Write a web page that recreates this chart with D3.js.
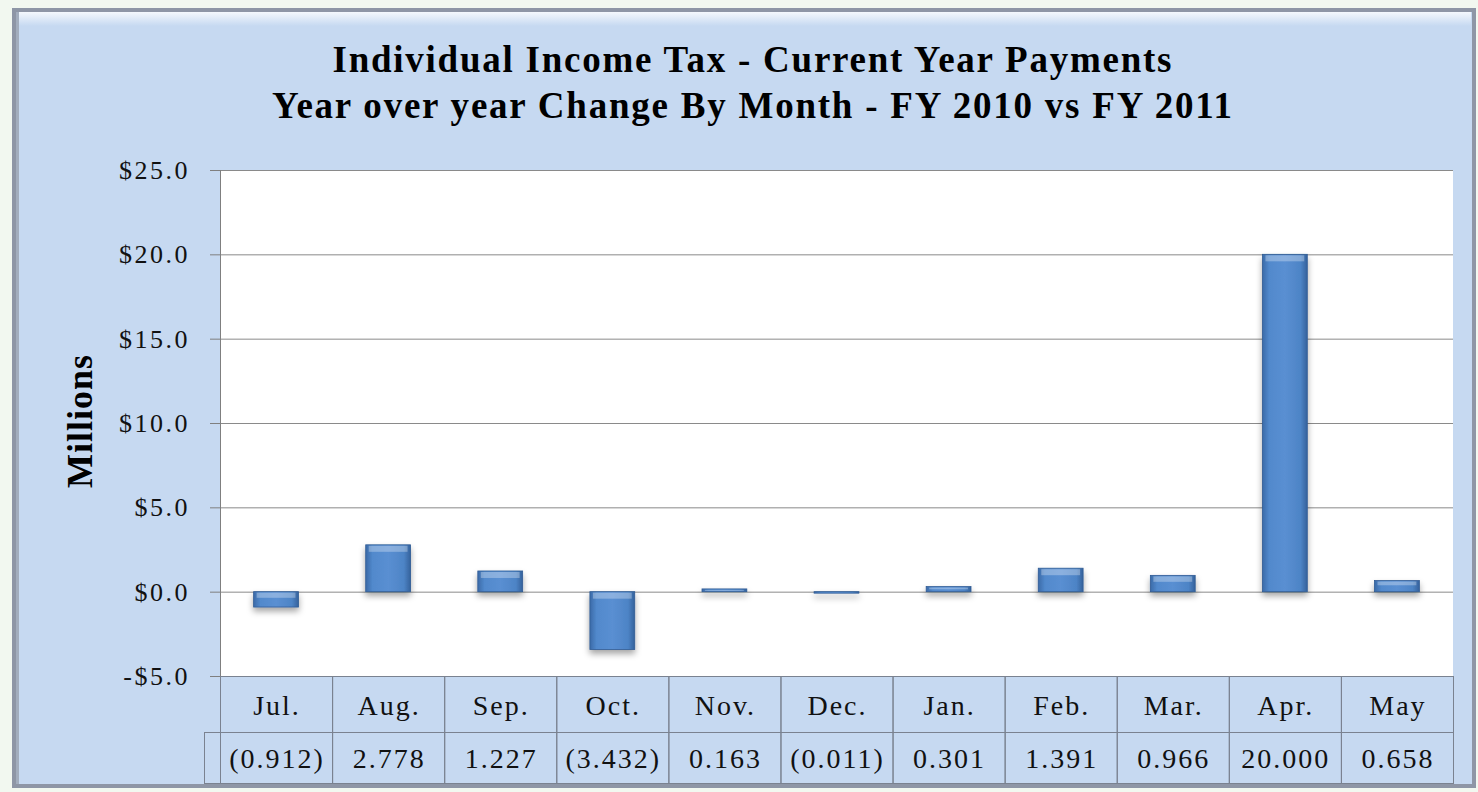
<!DOCTYPE html>
<meta charset="utf-8">
<script src="https://d3js.org/d3.v7.min.js"></script>
<style>
  body { margin: 0; background: #f2f8f0; }
  text { font-family: "Liberation Serif", "Times New Roman", serif; }
</style>
<div id="chart"></div>
<script>

// data
var months = ["Jul.", "Aug.", "Sep.", "Oct.", "Nov.", "Dec.", "Jan.", "Feb.", "Mar.", "Apr.", "May"];
var values = [-0.912, 2.778, 1.227, -3.432, 0.163, -0.011, 0.301, 1.391, 0.966, 20.000, 0.658];
var yTicks = [-5, 0, 5, 10, 15, 20, 25];
var titleLines = ["Individual Income Tax - Current Year Payments",
                  "Year over year Change By Month - FY 2010 vs FY 2011"];

var W = 1478, H = 792;
var plot = {left: 220, right: 1453, top: 170, bottom: 676};
var row1 = 732, row2 = 783;

var svg = d3.select("#chart").append("svg")
    .attr("width", W)
    .attr("height", H);

var defs = svg.append("defs");

var grad = defs.append("linearGradient").attr("id", "barGrad")
    .attr("x1", "0").attr("x2", "1").attr("y1", "0").attr("y2", "0");
grad.append("stop").attr("offset", "0%").attr("stop-color", "#3b6aa8");
grad.append("stop").attr("offset", "15%").attr("stop-color", "#5189cc");
grad.append("stop").attr("offset", "50%").attr("stop-color", "#5a8fd2");
grad.append("stop").attr("offset", "85%").attr("stop-color", "#4d84c6");
grad.append("stop").attr("offset", "100%").attr("stop-color", "#35629c");

var shadow = defs.append("filter").attr("id", "shadow")
    .attr("x", "-30%").attr("y", "-30%").attr("width", "160%").attr("height", "180%");
shadow.append("feDropShadow")
    .attr("dx", 0).attr("dy", 4).attr("stdDeviation", 3)
    .attr("flood-color", "#000").attr("flood-opacity", 0.35);

var topGrad = defs.append("linearGradient").attr("id", "frameTop")
    .attr("x1", "0").attr("x2", "0").attr("y1", "0").attr("y2", "1");
topGrad.append("stop").attr("offset", "0%").attr("stop-color", "#f4f8fd");
topGrad.append("stop").attr("offset", "100%").attr("stop-color", "#c6d9f1");

// outer frame
svg.append("rect")
    .attr("x", 14).attr("y", 10).attr("width", 1460).attr("height", 776)
    .attr("fill", "#c6d9f1")
    .attr("stroke", "#8e96a6").attr("stroke-width", 4);
svg.append("rect")
    .attr("x", 17).attr("y", 12).attr("width", 1454).attr("height", 14)
    .attr("fill", "url(#frameTop)");
svg.append("rect")
    .attr("x", 16).attr("y", 12).attr("width", 3).attr("height", 772)
    .attr("fill", "#a2adbd");

// title
var titleW = [839, 960];
svg.append("g").selectAll("text")
  .data(titleLines)
  .enter().append("text")
    .attr("x", 752)
    .attr("y", function(d, i) { return 72 + i * 46; })
    .attr("text-anchor", "middle")
    .attr("textLength", function(d, i) { return titleW[i]; })
    .attr("lengthAdjust", "spacing")
    .style("font-size", "37px")
    .style("font-weight", "bold")
    .text(function(d) { return d; });

// scales
var x = d3.scaleBand()
    .domain(months)
    .range([plot.left, plot.right]);

var y = d3.scaleLinear()
    .domain([-5, 25])
    .range([plot.bottom, plot.top]);

// plot background
svg.append("rect")
    .attr("x", plot.left).attr("y", plot.top)
    .attr("width", plot.right - plot.left).attr("height", plot.bottom - plot.top)
    .attr("fill", "#ffffff");

// gridlines
svg.append("g").selectAll("line")
  .data(yTicks)
  .enter().append("line")
    .attr("x1", plot.left).attr("x2", plot.right)
    .attr("y1", function(d) { return y(d) + 0.5; })
    .attr("y2", function(d) { return y(d) + 0.5; })
    .attr("stroke", "#8a8a8a").attr("stroke-width", 1);

// y axis
var yAxis = svg.append("g")
    .attr("transform", "translate(" + plot.left + ",0)")
    .call(d3.axisLeft(y)
      .tickValues(yTicks)
      .tickSize(10)
      .tickPadding(20)
      .tickFormat(function(d) { return (d < 0 ? "-$" : "$") + Math.abs(d).toFixed(1); }));
yAxis.select(".domain").remove();
yAxis.selectAll(".tick line").attr("stroke", "#7f7f7f");
yAxis.selectAll(".tick text")
    .style("font-family", "'Liberation Serif', serif")
    .style("font-size", "26px")
    .style("letter-spacing", "2.5px")
    .attr("fill", "#111")
    .attr("dy", "0.33em");

svg.append("line")
    .attr("x1", plot.left + 0.5).attr("x2", plot.left + 0.5)
    .attr("y1", plot.top).attr("y2", row2)
    .attr("stroke", "#7f7f7f");

// y axis title
svg.append("text")
    .attr("transform", "translate(92,421) rotate(-90)")
    .attr("text-anchor", "middle")
    .style("font-size", "36px")
    .style("font-weight", "bold")
    .style("letter-spacing", "1px")
    .text("Millions");

// bars
var barW = x.bandwidth() * 0.4;
var bars = svg.append("g").attr("filter", "url(#shadow)")
  .selectAll("g")
  .data(values)
  .enter().append("g");

bars.append("rect")
    .attr("x", function(d, i) { return x(months[i]) + (x.bandwidth() - barW) / 2; })
    .attr("y", function(d) { return y(Math.max(0, d)); })
    .attr("width", barW)
    .attr("height", function(d) { return Math.max(Math.abs(y(d) - y(0)), 1.5); })
    .attr("fill", "url(#barGrad)")
    .attr("stroke", "#2f5b94").attr("stroke-width", 0.8);

// bevel highlight on top of each bar
bars.append("rect")
    .attr("x", function(d, i) { return x(months[i]) + (x.bandwidth() - barW) / 2 + 3; })
    .attr("y", function(d) { return y(Math.max(0, d)) + 1; })
    .attr("width", barW - 6)
    .attr("height", function(d) { return Math.min(6, Math.abs(y(d) - y(0)) / 3); })
    .attr("fill", "#ffffff").attr("opacity", 0.3);

// data table
var table = svg.append("g");
table.append("rect")
    .attr("x", plot.left).attr("y", plot.bottom)
    .attr("width", plot.right - plot.left).attr("height", row2 - plot.bottom)
    .attr("fill", "#c6d9f1");
table.append("rect")
    .attr("x", 204.5).attr("y", row1 + 0.5)
    .attr("width", plot.left - 204).attr("height", row2 - row1)
    .attr("fill", "none").attr("stroke", "#7a8290");

table.selectAll(".col")
  .data(months)
  .enter().append("rect")
    .attr("class", "col")
    .attr("x", function(d) { return x(d) + 0.5; })
    .attr("y", plot.bottom + 0.5)
    .attr("width", x.bandwidth())
    .attr("height", row2 - plot.bottom)
    .attr("fill", "none").attr("stroke", "#7a8290");
table.append("line")
    .attr("x1", plot.left).attr("x2", plot.right)
    .attr("y1", row1 + 0.5).attr("y2", row1 + 0.5)
    .attr("stroke", "#7a8290");

table.selectAll(".mlab")
  .data(months)
  .enter().append("text")
    .attr("class", "mlab")
    .attr("x", function(d) { return x(d) + x.bandwidth() / 2 + 1; })
    .attr("y", 715)
    .attr("text-anchor", "middle")
    .style("font-size", "28px")
    .style("letter-spacing", "2px")
    .attr("fill", "#111")
    .text(function(d) { return d; });

var fmt = d3.format(".3f");
table.selectAll(".vlab")
  .data(values)
  .enter().append("text")
    .attr("class", "vlab")
    .attr("x", function(d, i) { return x(months[i]) + x.bandwidth() / 2 + 1; })
    .attr("y", 768)
    .attr("text-anchor", "middle")
    .style("font-size", "28px")
    .style("letter-spacing", "2px")
    .attr("fill", "#111")
    .text(function(d) { return d < 0 ? "(" + fmt(-d) + ")" : fmt(d); });

</script>
